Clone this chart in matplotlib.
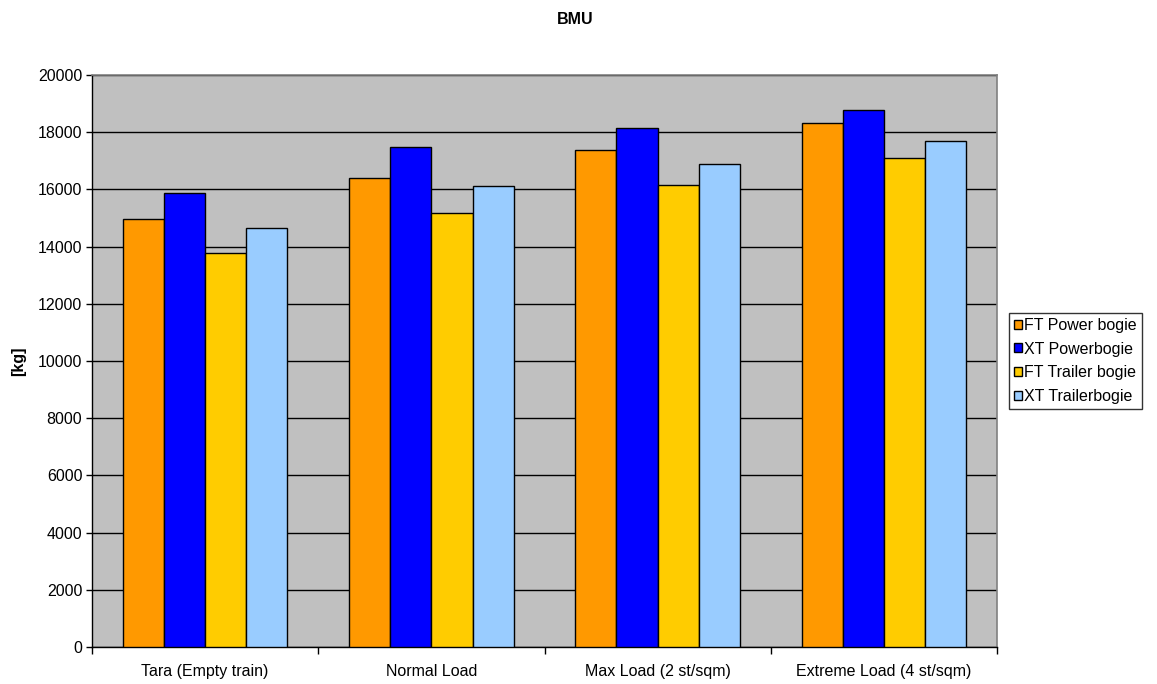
import matplotlib
matplotlib.use("Agg")
import matplotlib.pyplot as plt
import numpy as np
from matplotlib.patches import Patch

categories = ["Tara (Empty train)", "Normal Load", "Max Load (2 st/sqm)", "Extreme Load (4 st/sqm)"]
series_names = ["FT Power bogie", "XT Powerbogie", "FT Trailer bogie", "XT Trailerbogie"]
ft_power = [14950, 16400, 17370, 18320]
xt_power = [15870, 17500, 18140, 18770]
ft_trailer = [13770, 15190, 16150, 17110]
xt_trailer = [14650, 16120, 16900, 17690]
yticks = [0, 2000, 4000, 6000, 8000, 10000, 12000, 14000, 16000, 18000, 20000]
colors = ["#FF9900", "#0000FF", "#FFCC00", "#99CCFF"]

plt.rcParams['font.family'] = ['Liberation Sans', 'DejaVu Sans']
FS = 11.5

fig = plt.figure(figsize=(11.57, 6.84), dpi=100)
ax = fig.add_axes([92/1157, 1-647/684, (997-92)/1157, (647-75)/684])
ax.set_facecolor("#C0C0C0")

x = np.arange(len(categories))
w = 0.182
data = [ft_power, xt_power, ft_trailer, xt_trailer]
for i, (vals, c) in enumerate(zip(data, colors)):
    ax.bar(x + (i - 1.5) * w, vals, width=w, color=c, edgecolor="black", linewidth=1.0, zorder=3)

ax.set_xlim(-0.5, len(categories) - 0.5)
ax.set_ylim(0, 20000)
ax.set_yticks(yticks)
ax.set_yticklabels([str(v) for v in yticks], fontsize=FS)
ax.yaxis.grid(True, color="black", linewidth=1.0, zorder=1)
ax.set_axisbelow(True)

ax.set_xticks(x)
ax.set_xticklabels(categories, fontsize=FS)
ax.tick_params(axis='x', length=0, pad=12)
ax.set_xticks(np.arange(-0.5, len(categories)), minor=True)
ax.tick_params(axis='x', which='minor', length=5, width=1, color='black', direction='out')
ax.tick_params(axis='y', length=4, width=1, direction='out', pad=3)

for s in ["top", "right"]:
    ax.spines[s].set_color("#808080")
    ax.spines[s].set_linewidth(1.2)
for s in ["left", "bottom"]:
    ax.spines[s].set_color("black")
    ax.spines[s].set_linewidth(1.0)

ax.set_ylabel("[kg]", fontsize=FS, fontweight="bold")
ax.yaxis.set_label_coords((26 - 92) / 905, 0.5)
fig.text(575/1157, 1-20/684, "BMU", ha="center", va="center", fontsize=FS, fontweight="bold")

handles = [Patch(facecolor=c, edgecolor="black", label=n) for c, n in zip(colors, series_names)]
leg = fig.legend(handles=handles, loc="upper left", bbox_to_anchor=(1009/1157, 1-313/684),
                 fontsize=FS, frameon=True, fancybox=False, handlelength=0.5, handleheight=0.5,
                 handletextpad=0.15, borderpad=0.3, borderaxespad=0, labelspacing=0.55)
leg.get_frame().set_edgecolor("black")
leg.get_frame().set_linewidth(1.0)

fig.savefig("out.png", dpi=100, facecolor="white")
